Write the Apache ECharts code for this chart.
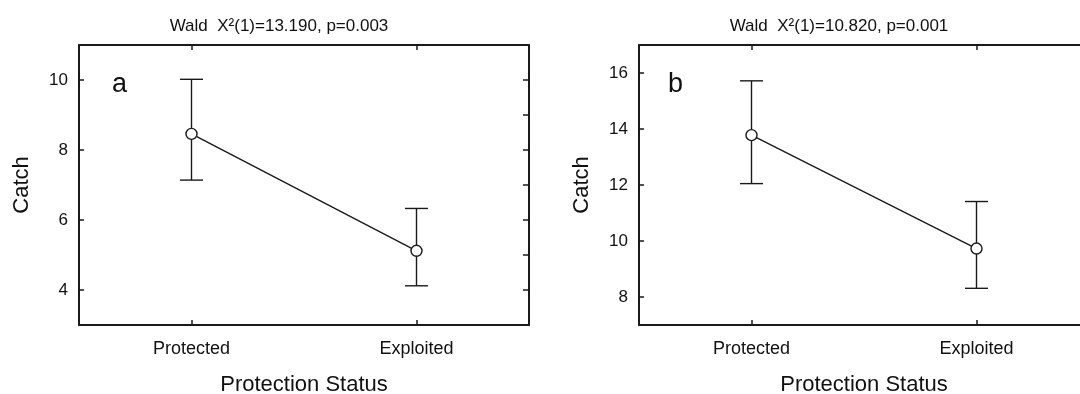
<!DOCTYPE html>
<html>
<head>
<meta charset="utf-8">
<title>Catch by protection status</title>
<script src="https://cdn.jsdelivr.net/npm/echarts@6/dist/echarts.min.js"></script>
<style>
  html, body { margin: 0; padding: 0; background: #ffffff; }
  #chart { width: 1080px; height: 394px; }
</style>
</head>
<body>
<div id="chart"></div>
<script>
// Categories on the x axis
const categories = ['Protected', 'Exploited'];

// Panel a: mean catch with lower / upper interval limits
const meanA = [8.46, 5.12];
const lowA = [7.14, 4.12];
const highA = [10.02, 6.33];

// Panel b: mean catch with lower / upper interval limits
const meanB = [13.78, 9.73];
const lowB = [12.05, 8.31];
const highB = [15.72, 11.41];

// Axis ranges and tick positions
const rangeA = [3, 11];
const rangeB = [7, 17];
const labelTicksA = [4, 6, 8, 10];
const labelTicksB = [8, 10, 12, 14, 16];
const minorTicksA = [4, 5, 6, 7, 8, 9, 10];
const minorTicksB = [8, 9, 10, 11, 12, 13, 14, 15, 16];

// Panel headings
const titles = ['Wald  X\u00B2(1)=13.190, p=0.003', 'Wald  X\u00B2(1)=10.820, p=0.001'];
const panelLetters = ['a', 'b'];

const FONT = 'Liberation Sans, Arial, Helvetica, sans-serif';
const INK = '#1a1a1a';

// The second panel runs past the right edge of the page
const grids = [
  { left: 79, top: 45, width: 450, height: 280, outerBoundsMode: 'none' },
  { left: 639, top: 45, width: 450, height: 280, outerBoundsMode: 'none' }
];

function frameLine() {
  return { show: true, onZero: false, lineStyle: { color: INK, width: 2 } };
}

const xAxes = [];
const yAxes = [];
const series = [];

const panels = [
  { mean: meanA, low: lowA, high: highA, range: rangeA, major: labelTicksA, minor: minorTicksA },
  { mean: meanB, low: lowB, high: highB, range: rangeB, major: labelTicksB, minor: minorTicksB }
];

panels.forEach(function (p, i) {
  // bottom category axis with labels
  xAxes.push({
    gridIndex: i, type: 'category', data: categories, position: 'bottom',
    boundaryGap: true,
    axisLine: frameLine(),
    axisTick: { show: true, inside: true, length: 5, alignWithLabel: true, lineStyle: { color: INK, width: 1.5 } },
    axisLabel: { show: true, color: '#111', fontFamily: FONT, fontSize: 18, margin: 15 },
    name: 'Protection Status', nameLocation: 'middle', nameGap: 49,
    nameTextStyle: { color: '#111', fontFamily: FONT, fontSize: 22 },
    splitLine: { show: false }
  });
  // top category axis, frame only
  xAxes.push({
    gridIndex: i, type: 'category', data: categories, position: 'top',
    boundaryGap: true,
    axisLine: frameLine(),
    axisTick: { show: true, inside: true, length: 5, alignWithLabel: true, lineStyle: { color: INK, width: 1.5 } },
    axisLabel: { show: false },
    splitLine: { show: false }
  });
  // left value axis with labels
  yAxes.push({
    gridIndex: i, type: 'value', position: 'left',
    min: p.range[0], max: p.range[1],
    axisLine: frameLine(),
    axisTick: { show: true, inside: true, length: 5, customValues: p.major, lineStyle: { color: INK, width: 1.5 } },
    axisLabel: { show: true, customValues: p.major, color: '#111', fontFamily: FONT, fontSize: 17, margin: 11 },
    name: 'Catch', nameLocation: 'middle', nameGap: 46,
    nameTextStyle: { color: '#111', fontFamily: FONT, fontSize: 22 },
    splitLine: { show: false }
  });
  // right value axis, unit ticks only
  yAxes.push({
    gridIndex: i, type: 'value', position: 'right',
    min: p.range[0], max: p.range[1],
    axisLine: frameLine(),
    axisTick: { show: true, inside: true, length: 6, customValues: p.minor, lineStyle: { color: INK, width: 1.5 } },
    axisLabel: { show: false },
    splitLine: { show: false }
  });

  const xi = i * 2;
  const yi = i * 2;

  // interval bars with caps
  series.push({
    type: 'custom',
    xAxisIndex: xi, yAxisIndex: yi,
    z: 2,
    data: categories.map(function (c, k) { return [k, p.low[k], p.high[k]]; }),
    encode: { x: 0, y: [1, 2] },
    renderItem: function (params, api) {
      const k = api.value(0);
      const lo = api.coord([k, api.value(1)]);
      const hi = api.coord([k, api.value(2)]);
      const half = 11.5;
      const style = { stroke: INK, lineWidth: 1.4, fill: null };
      return {
        type: 'group',
        children: [
          { type: 'line', shape: { x1: lo[0], y1: lo[1], x2: hi[0], y2: hi[1] }, style: style },
          { type: 'line', shape: { x1: hi[0] - half, y1: hi[1], x2: hi[0] + half, y2: hi[1] }, style: style },
          { type: 'line', shape: { x1: lo[0] - half, y1: lo[1], x2: lo[0] + half, y2: lo[1] }, style: style }
        ]
      };
    },
    silent: true
  });

  // means joined by a line
  series.push({
    type: 'line',
    xAxisIndex: xi, yAxisIndex: yi,
    z: 3,
    data: p.mean,
    symbol: 'circle', symbolSize: 11,
    itemStyle: { color: '#ffffff', borderColor: INK, borderWidth: 1.4 },
    lineStyle: { color: INK, width: 1.4 },
    silent: true,
    animation: false
  });
});

const titleItems = [];
const titleCenters = [274, 834];
titles.forEach(function (t, i) {
  const g = grids[i];
  titleItems.push({
    text: t,
    left: titleCenters[i],
    top: 13,
    textAlign: 'center',
    textStyle: { color: '#111', fontFamily: FONT, fontSize: 17, fontWeight: 'normal' }
  });
  titleItems.push({
    text: panelLetters[i],
    left: g.left + (i === 0 ? 28 : 24),
    top: 66,
    textStyle: { color: '#111', fontFamily: FONT, fontSize: 27, fontWeight: 'normal' }
  });
});

const chart = echarts.init(document.getElementById('chart'), null, { renderer: 'canvas' });
chart.setOption({
  animation: false,
  backgroundColor: '#ffffff',
  title: titleItems,
  grid: grids,
  xAxis: xAxes,
  yAxis: yAxes,
  series: series
});
</script>
</body>
</html>
